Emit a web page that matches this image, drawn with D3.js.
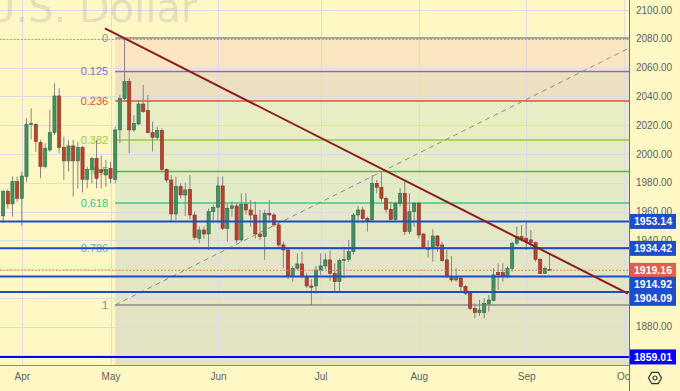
<!DOCTYPE html>
<html>
<head>
<meta charset="utf-8">
<script src="https://cdn.jsdelivr.net/npm/d3@7"></script>
<style>
  html, body { margin: 0; padding: 0; background: #fff8c5; }
  svg { display: block; font-family: "Liberation Sans", Arial, sans-serif; }
</style>
</head>
<body>
<div id="chart"></div>
<script>
// trading calendar (weekdays, Good Friday closed)
const calStart = "2023-03-27", calEnd = "2023-10-06";
const holidays = ["2023-04-07"];
const firstCandle = "2023-03-28";

// daily candles, Mar 28 .. Sep 8
const open = [1957.0,1973.9,1965.3,1980.8,
  1969.2,1984.3,2020.6,2020.6,2007.9,1991.2,2002.8,2014.8,2040.3,2004.6,1995.2,2005.6,1995.2,2004.6,1982.4,1989.0,1997.0,1989.0,1985.4,
  1990.0,1982.4,2016.7,2038.6,2050.2,2016.7,2020.8,2034.7,2030.1,2014.8,2011.6,2016.2,1989.3,1981.9,1958.3,1977.3,1971.5,1975.4,1957.6,1941.4,1947.2,1944.4,1959.9,
  1963.0,1977.8,1948.4,1962.3,1963.9,1940.3,1965.0,1961.1,1957.6,1944.4,1942.6,1958.8,1957.6,1950.7,1936.8,1933.3,1914.8,1920.6,1923.6,1914.8,1908.3,1908.3,
  1919.4,1922.2,1926.4,1917.1,1911.3,1925.9,1926.8,1932.2,1957.6,1961.1,1955.3,1954.2,1979.6,1976.8,1969.2,1961.6,1954.6,1965.7,1972.7,1946.1,1960.0,
  1965.7,1944.4,1933.8,1935.2,1943.0,1936.8,1926.4,1914.8,1912.5,1913.7,1907.9,1903.2,1892.8,1889.8,1889.8,1895.8,1898.2,1917.6,1917.6,1914.8,1920.6,1938.0,1942.6,
  1941.4,1940.3,1938.4,1926.8,1917.1,1919.8];
const high = [1975.0,1975.5,1984.3,1984.3,
  1987.8,2024.8,2031.7,2021.3,2009.7,2007.4,2030.6,2049.1,2045.6,2012.0,2009.7,2009.7,2008.6,2005.6,1991.2,1998.2,2009.7,1999.0,1995.9,
  1994.7,2019.0,2041.0,2080.5,2052.5,2027.0,2037.5,2047.9,2041.0,2022.4,2019.0,2017.8,1990.0,1985.4,1984.3,1979.6,1980.0,1985.4,1959.9,1949.5,1949.5,1962.2,1964.5,
  1984.3,1984.3,1965.7,1966.9,1966.2,1972.7,1972.7,1968.0,1966.9,1961.0,1961.1,1968.0,1958.8,1953.0,1939.1,1934.5,1922.2,1931.0,1932.2,1917.6,1913.0,1922.2,
  1931.0,1931.0,1933.0,1924.0,1927.5,1935.6,1940.3,1959.0,1964.0,1963.4,1956.5,1985.4,1982.0,1987.7,1970.4,1966.9,1966.9,1976.2,1980.8,1972.7,1966.9,
  1966.9,1944.9,1940.0,1947.7,1943.7,1939.0,1933.3,1929.0,1920.6,1914.8,1909.0,1904.4,1896.3,1898.6,1899.8,1902.0,1920.6,1924.0,1924.0,1921.8,1939.1,1949.5,1950.7,
  1953.0,1947.2,1939.1,1927.5,1921.8,1930.2];
const low = [1951.9,1962.0,1956.5,1966.9,
  1950.0,1980.8,2010.0,2001.6,1983.1,1990.0,2001.6,2013.2,2000.5,1982.0,1987.8,1970.4,1976.0,1973.2,1976.2,1979.6,1976.2,1976.0,1977.0,
  1979.6,1979.6,2007.4,2037.5,2000.5,2015.5,2020.0,2028.7,2014.4,2001.6,2009.7,1986.6,1980.0,1953.0,1954.2,1969.2,1957.0,1954.6,1940.3,1937.9,1941.4,1933.3,1951.8,
  1951.8,1947.2,1939.1,1956.5,1937.9,1939.1,1958.0,1949.5,1941.4,1940.3,1926.4,1952.0,1949.5,1934.5,1920.6,1913.0,1911.3,1919.4,1913.7,1906.7,1895.1,1902.8,
  1916.0,1920.0,1912.0,1904.4,1904.4,1913.7,1925.0,1930.0,1951.8,1951.8,1946.0,1953.0,1972.7,1966.9,1958.8,1953.7,1953.0,1963.4,1943.7,1944.4,1949.5,
  1941.4,1934.5,1928.0,1925.2,1932.0,1925.2,1913.7,1911.0,1911.3,1904.4,1902.0,1891.6,1885.9,1887.5,1885.9,1890.5,1897.5,1905.5,1911.3,1913.7,1918.3,1936.8,1939.1,
  1933.3,1934.5,1925.2,1916.6,1916.6,1918.8];
const close = [1973.9,1965.3,1980.8,1969.2,
  1984.7,2020.6,2021.3,2008.6,1991.2,2004.0,2014.8,2040.3,2004.6,1995.2,2005.6,1995.2,2004.6,1982.4,1989.4,1997.0,1983.1,1987.0,1989.4,
  1983.1,2016.7,2038.6,2050.2,2016.7,2021.3,2034.7,2029.4,2014.8,2011.6,2016.2,1989.3,1981.9,1958.3,1977.3,1971.5,1975.0,1957.6,1942.1,1947.2,1944.4,1959.9,1963.0,
  1977.8,1948.4,1962.3,1963.9,1940.3,1965.0,1961.1,1957.6,1944.4,1942.6,1958.8,1957.6,1950.7,1936.8,1933.3,1914.8,1920.6,1923.6,1914.8,1908.3,1907.4,1919.4,
  1922.2,1926.4,1917.1,1911.3,1925.9,1926.8,1932.2,1957.6,1961.1,1955.3,1953.0,1979.6,1976.8,1969.2,1961.6,1954.6,1965.7,1972.7,1946.1,1960.0,1965.7,
  1943.7,1935.2,1934.5,1943.0,1936.1,1925.9,1914.8,1912.5,1914.1,1907.9,1903.2,1892.8,1889.8,1891.6,1896.3,1898.6,1916.0,1916.0,1914.8,1920.6,1938.0,1942.6,1940.3,
  1939.1,1938.4,1926.8,1917.1,1920.6,1919.16];

// fibonacci retracement
const fibHigh = 2080.5, fibLow = 1895.1;
const fibStartDay = "2023-05-02";
const fibLevels = [0, 0.125, 0.236, 0.382, 0.5, 0.618, 0.786, 1];
const fibLabels = ["0", "0.125", "0.236", "0.382", "0.5", "0.618", "0.786", "1"];
const fibColors = ["#8c8c8c", "#7f6fd0", "#e0533f", "#9acb3a", "#4cba4c", "#3fc497", "#5aa9e8", "#8c8c8c"];
const fibFills = ["#fbe6c0", "#ebe0bf", "#e9edc4", "#e5ebc4", "#e3eac6", "#e4e8c5", "#e4e5c4", "#e3e2c3"];
const fibEndSlot = 139.3;   // off-screen anchor of the fib

// drawn lines
const levels = [1953.14, 1934.42, 1914.92, 1904.09, 1859.01];
const levelColors = ["#1b4dcc", "#1b4dcc", "#1b4dcc", "#1b4dcc", "#0000ff"];
const lastPrice = 1919.16;
const highLine = 2079.5;
const trendFrom = { slot: 22.8, price: 2087.2 };
const trendTo = { slot: 134.8, price: 1903.0 };
const priceTicks = d3.range(1880, 2101, 20);
const gridTicks = d3.range(1860, 2101, 20);

const width = 680, height = 391;
const plotW = 629, plotH = 366;

const parse = d3.utcParse("%Y-%m-%d"), fmt = d3.utcFormat("%Y-%m-%d");
const calendar = d3.utcDays(parse(calStart), d3.utcDay.offset(parse(calEnd), 1))
  .filter(d => d.getUTCDay() % 6 !== 0 && !holidays.includes(fmt(d)));
const slotOf = new Map(calendar.map((d, i) => [fmt(d), i]));
const c0 = slotOf.get(firstCandle);
const candles = open.map((o, i) => ({ slot: c0 + i, o, h: high[i], l: low[i], c: close[i] }));
const monthSlots = calendar.map((d, i) => i)
  .filter(i => i > 0 && calendar[i].getUTCMonth() !== calendar[i - 1].getUTCMonth());

const x = d3.scaleLinear().domain([0.33, 134.8]).range([0, 628]);
const y = d3.scaleLinear().domain([1853.4, 2106.95]).range([365, 0]);

const svg = d3.select("#chart").append("svg")
  .attr("width", width).attr("height", height);

svg.append("rect").attr("width", width).attr("height", height).attr("fill", "#fff8c5");

svg.append("clipPath").attr("id", "plot")
  .append("rect").attr("width", plotW).attr("height", plotH);

const plot = svg.append("g").attr("clip-path", "url(#plot)");

// fib fills
const fx = x(slotOf.get(fibStartDay));
const fibPrice = l => fibHigh - l * (fibHigh - fibLow);
const bands = fibLevels.map((l, i) => ({
  top: y(fibPrice(l)),
  bottom: i < fibLevels.length - 1 ? y(fibPrice(fibLevels[i + 1])) : plotH,
  fill: fibFills[i]
}));
plot.append("g").selectAll("rect").data(bands).join("rect")
  .attr("x", fx).attr("width", plotW - fx)
  .attr("y", d => d.top).attr("height", d => d.bottom - d.top)
  .attr("fill", d => d.fill);

// grid
plot.append("g").attr("stroke", "#dcdce2").attr("stroke-width", 1)
  .selectAll("line").data(gridTicks).join("line")
  .attr("x1", 0).attr("x2", plotW)
  .attr("y1", d => Math.round(y(d)) + 0.5).attr("y2", d => Math.round(y(d)) + 0.5);
plot.append("g").attr("stroke", "#dcdce2").attr("stroke-width", 1)
  .selectAll("line").data(monthSlots).join("line")
  .attr("y1", 0).attr("y2", plotH)
  .attr("x1", d => Math.round(x(d)) + 0.5).attr("x2", d => Math.round(x(d)) + 0.5);

// watermark
plot.append("text")
  .attr("x", -14).attr("y", 22)
  .attr("font-family", "DejaVu Sans, sans-serif")
  .attr("font-size", 40)
  .attr("fill", "rgba(120,123,134,0.2)")
  .text("U.S. Dollar");

// fib lines + labels
const fib = plot.append("g");
fib.selectAll("line").data(fibLevels).join("line")
  .attr("x1", fx).attr("x2", plotW)
  .attr("y1", d => y(fibPrice(d))).attr("y2", d => y(fibPrice(d)))
  .attr("stroke", (d, i) => fibColors[i]).attr("stroke-width", 1.5);
fib.selectAll("text").data(fibLevels).join("text")
  .attr("x", fx - 7).attr("y", d => y(fibPrice(d)))
  .attr("dy", "0.35em").attr("text-anchor", "end")
  .attr("font-size", 11)
  .attr("fill", (d, i) => fibColors[i])
  .text((d, i) => fibLabels[i]);
plot.append("line")
  .attr("x1", fx).attr("y1", y(fibLow))
  .attr("x2", x(fibEndSlot)).attr("y2", y(fibHigh))
  .attr("stroke", "#8e8e8e").attr("stroke-width", 1).attr("stroke-dasharray", "5,4");

// candles
const candle = plot.append("g").selectAll("g").data(candles).join("g");
candle.append("line")
  .attr("x1", d => x(d.slot)).attr("x2", d => x(d.slot))
  .attr("y1", d => y(d.h)).attr("y2", d => y(d.l))
  .attr("stroke", "#858585").attr("stroke-width", 1);
candle.append("rect")
  .attr("x", d => x(d.slot) - 1.6).attr("width", 3.2)
  .attr("y", d => y(Math.max(d.o, d.c)))
  .attr("height", d => Math.max(1, Math.abs(y(d.o) - y(d.c))))
  .attr("fill", d => d.c >= d.o ? "#438f62" : "#b3432f")
  .attr("stroke", d => d.c >= d.o ? "#2e6e47" : "#8c3123")
  .attr("stroke-width", 0.6);

// drawn lines
plot.append("line")
  .attr("x1", 0).attr("x2", plotW).attr("y1", y(highLine)).attr("y2", y(highLine))
  .attr("stroke", "#9a9a9a").attr("stroke-dasharray", "1.5,2");
plot.append("line")
  .attr("x1", 0).attr("x2", plotW).attr("y1", y(lastPrice)).attr("y2", y(lastPrice))
  .attr("stroke", "#e07a62").attr("stroke-dasharray", "1.5,2");
plot.append("g").selectAll("line").data(levels).join("line")
  .attr("x1", 0).attr("x2", plotW)
  .attr("y1", d => y(d)).attr("y2", d => y(d))
  .attr("stroke", (d, i) => levelColors[i]).attr("stroke-width", 2);
plot.append("line")
  .attr("x1", x(trendFrom.slot)).attr("y1", y(trendFrom.price))
  .attr("x2", x(trendTo.slot)).attr("y2", y(trendTo.price))
  .attr("stroke", "#8e1b1b").attr("stroke-width", 2);

// axes
svg.append("line").attr("x1", plotW + 0.5).attr("x2", plotW + 0.5)
  .attr("y1", 0).attr("y2", height).attr("stroke", "#6e6e6e");
svg.append("line").attr("x1", 0).attr("x2", plotW)
  .attr("y1", plotH - 0.5).attr("y2", plotH - 0.5).attr("stroke", "#8a8a8a");

const yAxis = svg.append("g").attr("transform", `translate(${plotW},0)`)
  .call(d3.axisRight(y).tickValues(priceTicks).tickFormat(d3.format(".2f")).tickSize(0).tickPadding(7));
yAxis.select(".domain").remove();
yAxis.selectAll("text").attr("fill", "#5f5f5f").attr("font-size", 10)
  .attr("font-family", "Liberation Sans, Arial, sans-serif");

const xg = svg.append("g").attr("clip-path", "url(#xclip)");
svg.append("clipPath").attr("id", "xclip").append("rect")
  .attr("y", plotH).attr("width", plotW).attr("height", height - plotH);
const xAxis = xg.append("g").attr("transform", `translate(0,${plotH})`)
  .call(d3.axisBottom(x).tickValues(monthSlots)
    .tickFormat(i => d3.utcFormat("%b")(calendar[i])).tickSize(0).tickPadding(7));
xAxis.select(".domain").remove();
xAxis.selectAll("text").attr("fill", "#5f5f5f").attr("font-size", 10)
  .attr("font-family", "Liberation Sans, Arial, sans-serif");

// price labels on the scale, pushed down when they collide
const tags = levels.map((v, i) => ({ v, color: levelColors[i] }))
  .concat([{ v: lastPrice, color: "#e0604c" }])
  .sort((a, b) => b.v - a.v);
let prev = -Infinity;
tags.forEach(t => { t.cy = Math.max(y(t.v), prev + 14); prev = t.cy; });
const tag = svg.append("g").selectAll("g").data(tags).join("g")
  .attr("transform", d => `translate(${plotW + 1},${d.cy})`);
tag.append("rect").attr("x", 0).attr("y", -7.5).attr("width", 46).attr("height", 15)
  .attr("fill", d => d.color);
tag.append("text").attr("x", 23).attr("dy", "0.35em").attr("text-anchor", "middle")
  .attr("fill", "#fff").attr("font-size", 10.5).attr("font-weight", "bold")
  .text(d => d.v.toFixed(2));

// settings icon
const icon = svg.append("g").attr("transform", "translate(655,378)")
  .attr("fill", "none").attr("stroke", "#333").attr("stroke-width", 1.2);
icon.append("path").attr("d", d3.line()(d3.range(6).map(k => {
  const a = Math.PI / 3 * k;
  return [6.5 * Math.cos(a), 6.5 * Math.sin(a)];
})) + "Z");
icon.append("circle").attr("r", 2);
</script>
</body>
</html>
